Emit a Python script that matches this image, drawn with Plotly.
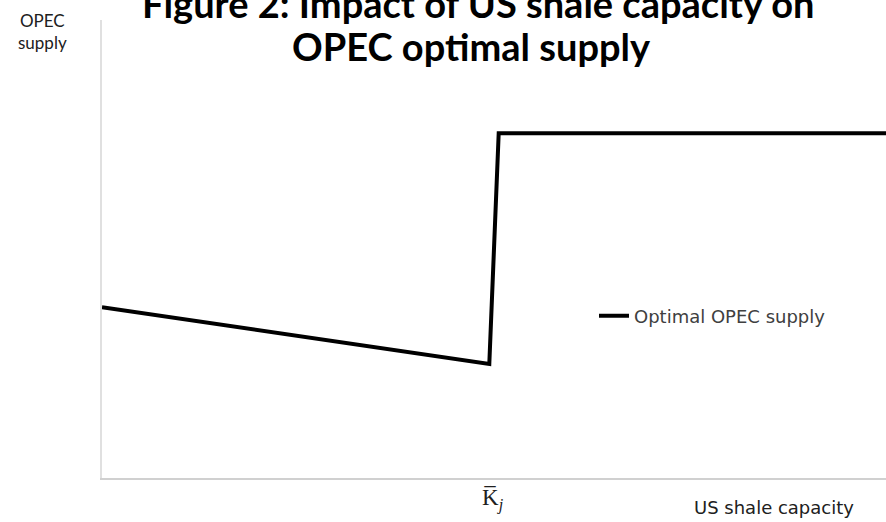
import plotly.graph_objects as go

# Data (arbitrary units, 0-100 axes)
capacity = [0, 49.4, 50.6, 100]
opec_supply = [37.3, 24.9, 75.3, 75.3]
series_name = "Optimal OPEC supply"
title_line1 = "Figure 2: Impact of US shale capacity on"
title_line2 = "OPEC optimal supply"
x_label = "US shale capacity"
y_label = "OPEC<br>supply"
kbar_label = "K̅<sub><i>j</i></sub>"

fig = go.Figure()
fig.add_trace(go.Scatter(
    x=capacity, y=opec_supply, mode="lines", name=series_name,
    line=dict(color="black", width=4), showlegend=True,
))

W, H = 886, 522
L, R, T, B = 102, 0, 20, 44
pw, ph = W - L - R, H - T - B

def px_x(x):
    return (x - L) / pw

def px_y(y):
    return (H - B - y) / ph

ann = []
ann.append(dict(text="<b>" + title_line1 + "</b>", x=px_x(478), y=px_y(3), xref="paper", yref="paper",
                xanchor="center", yanchor="middle", showarrow=False,
                font=dict(family="Lato", size=38, color="black")))
ann.append(dict(text="<b>" + title_line2 + "</b>", x=px_x(471), y=px_y(46), xref="paper", yref="paper",
                xanchor="center", yanchor="middle", showarrow=False,
                font=dict(family="Lato", size=38, color="black")))
ann.append(dict(text=y_label, x=px_x(42), y=px_y(32), xref="paper", yref="paper",
                xanchor="center", yanchor="middle", showarrow=False, align="center",
                font=dict(family="Lato", size=17, color="#202020")))
ann.append(dict(text=x_label, x=px_x(774), y=px_y(507), xref="paper", yref="paper",
                xanchor="center", yanchor="middle", showarrow=False,
                font=dict(family="DejaVu Sans", size=18, color="#202020")))
ann.append(dict(text=kbar_label, x=px_x(493), y=px_y(499), xref="paper", yref="paper",
                xanchor="center", yanchor="middle", showarrow=False,
                font=dict(family="Liberation Serif", size=23, color="#202020")))

fig.update_layout(
    width=W, height=H,
    margin=dict(l=L, r=R, t=T, b=B, pad=0),
    paper_bgcolor="white", plot_bgcolor="white",
    annotations=ann,
    legend=dict(x=px_x(594), y=px_y(316), xanchor="left", yanchor="middle",
                bgcolor="rgba(0,0,0,0)", borderwidth=0,
                font=dict(family="DejaVu Sans", size=18, color="#404040")),
    xaxis=dict(range=[0, 100], showgrid=False, zeroline=False, showticklabels=False,
               ticks="", showline=True, linecolor="#d0d0d0", linewidth=2, fixedrange=True),
    yaxis=dict(range=[0, 100], showgrid=False, zeroline=False, showticklabels=False,
               ticks="", showline=True, linecolor="#e0e0e0", linewidth=2, fixedrange=True),
)

fig.write_html("out.html", config={"displayModeBar": False},
               post_script="document.body.style.margin='0';")
